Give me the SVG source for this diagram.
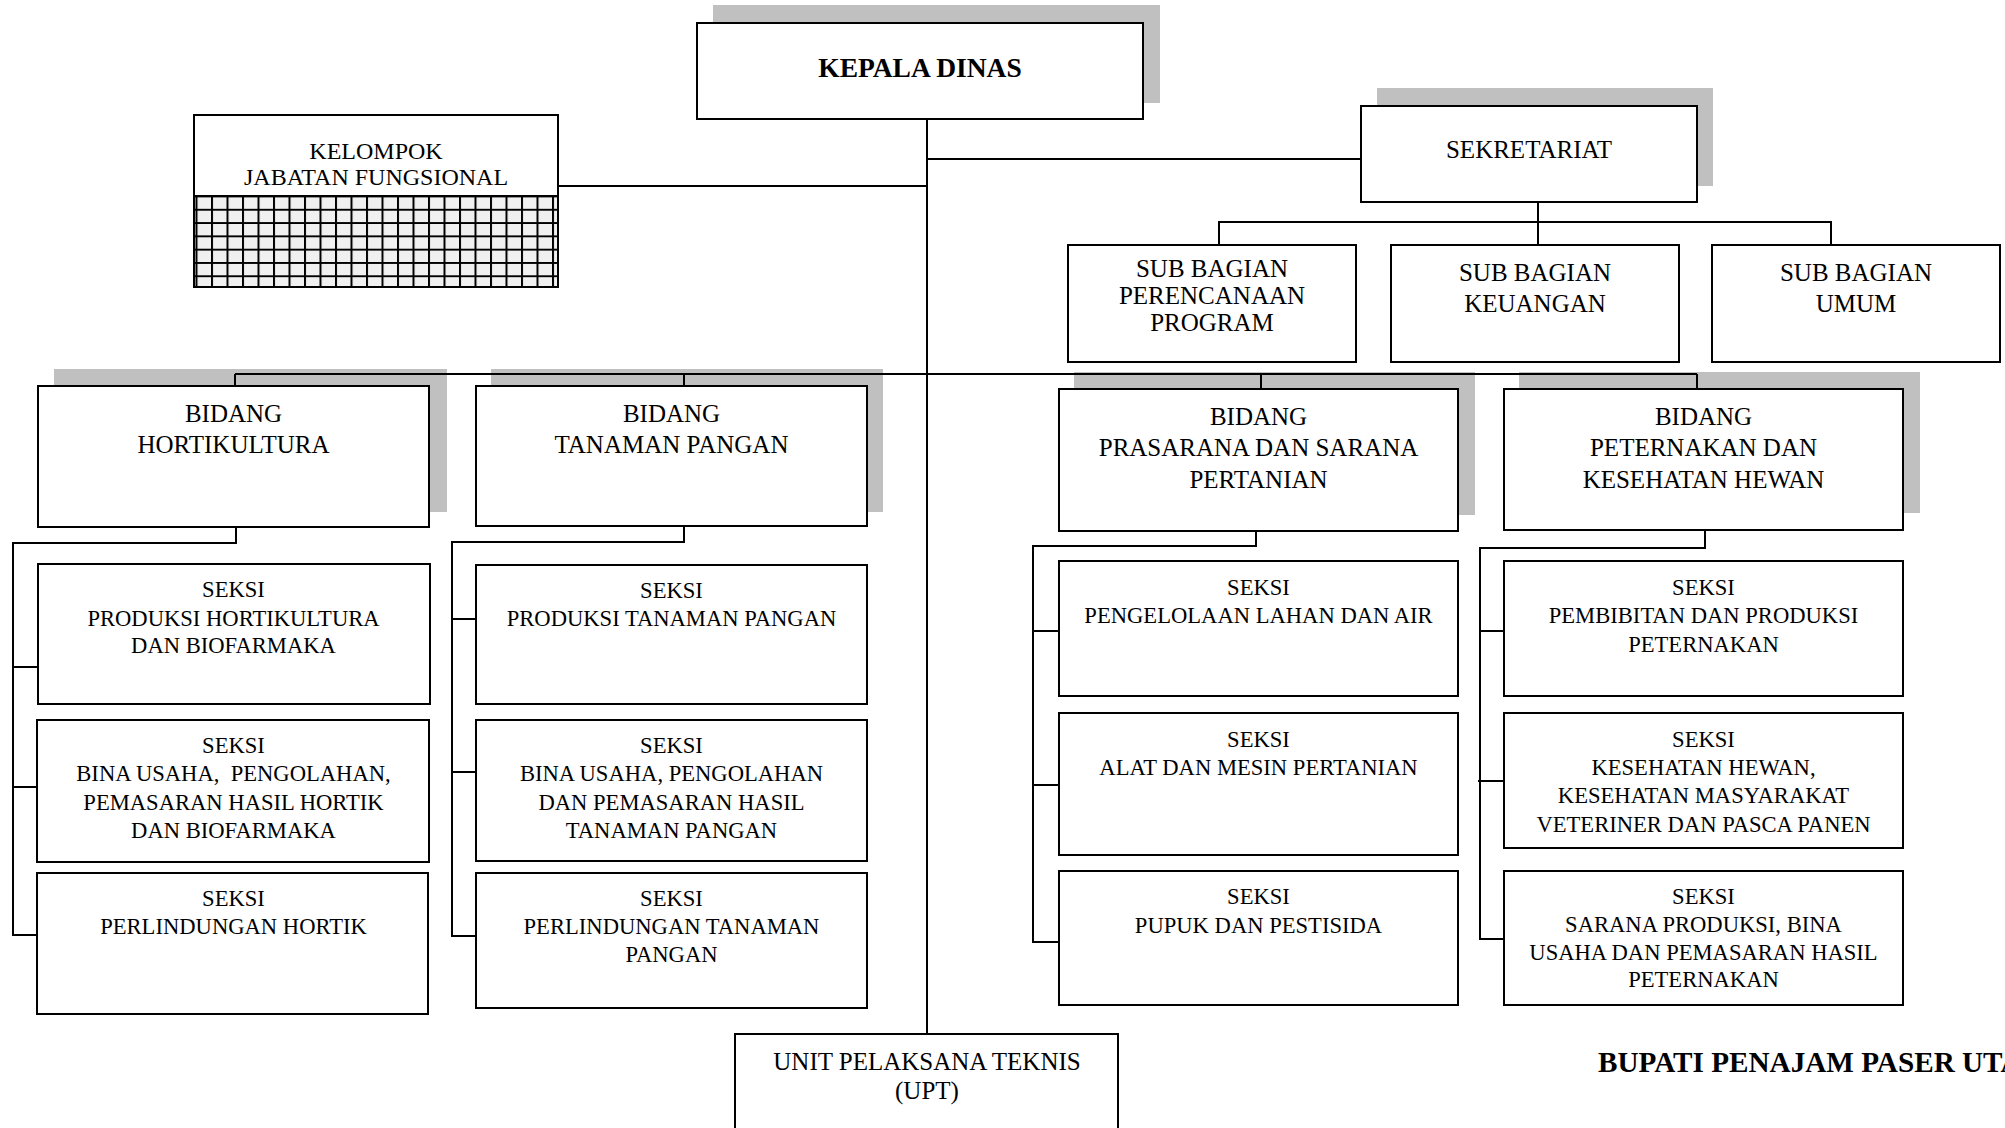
<svg xmlns="http://www.w3.org/2000/svg" width="2005" height="1128" viewBox="0 0 2005 1128">
<style>
.box{fill:#fff;stroke:#000;stroke-width:2}
.shadow{fill:#c0c0c0}
.conn{fill:none;stroke:#000;stroke-width:2}
text{font-family:"Liberation Serif","DejaVu Serif",serif;fill:#000}
.t{font-size:25px;text-anchor:middle}
.s{font-size:22.6px;text-anchor:middle}
.b{font-weight:bold}
</style>
<defs>
<pattern id="grid" patternUnits="userSpaceOnUse" x="195.5" y="195.5" width="15.5" height="13.3">
<rect width="15.5" height="13.3" fill="#f0f0f0"/>
<path d="M1 0V13.3M0 1H15.5" stroke="#000" stroke-width="2"/>
</pattern>
</defs>
<rect width="2005" height="1128" fill="#fff"/>

<g id="shadows">
<rect class="shadow" x="713" y="5" width="447" height="98"/>
<rect class="shadow" x="1377" y="88" width="336" height="98"/>
<rect class="shadow" x="54" y="369" width="393" height="143"/>
<rect class="shadow" x="491" y="369" width="392" height="143"/>
<rect class="shadow" x="1074" y="372" width="401" height="143"/>
<rect class="shadow" x="1519" y="372" width="401" height="141"/>
</g>

<g id="connectors">
<path class="conn" d="M927 119V1034M558 186H927M927 159H1361"/>
<path class="conn" d="M1538 202V245M1219 245V222H1831V245"/>
<path class="conn" d="M235 374H1697M235 374V386M684 374V386M1261 374V389M1697 374V389"/>
<path class="conn" d="M236 527V543H13V935H37M13 667H38M13 787H37"/>
<path class="conn" d="M684 526V542H452V936H476M452 619H476M452 772H476"/>
<path class="conn" d="M1256 531V546H1033V942H1059M1033 631H1059M1033 785H1059"/>
<path class="conn" d="M1705 530V548H1480V939H1504M1480 631H1504M1478 781H1504"/>
</g>

<g id="kepala-dinas">
<rect class="box" x="697" y="23" width="446" height="96"/>
<text class="t b" x="920" y="77" style="font-size:27.5px">KEPALA DINAS</text>
</g>

<g id="kelompok-jabatan-fungsional">
<rect class="box" x="194" y="115" width="364" height="172"/>
<rect x="195" y="196" width="362" height="90" fill="url(#grid)"/>
<path class="conn" d="M194 196H558"/>
<text class="t" x="376" y="159" style="font-size:24px">KELOMPOK</text>
<text class="t" x="376" y="185" style="font-size:24px">JABATAN FUNGSIONAL</text>
</g>

<g id="sekretariat">
<rect class="box" x="1361" y="106" width="336" height="96"/>
<text class="t" x="1529" y="158">SEKRETARIAT</text>
</g>

<g id="sub-bagian-perencanaan">
<rect class="box" x="1068" y="245" width="288" height="117"/>
<text class="t" x="1212" y="277">SUB BAGIAN</text>
<text class="t" x="1212" y="304">PERENCANAAN</text>
<text class="t" x="1212" y="331">PROGRAM</text>
</g>

<g id="sub-bagian-keuangan">
<rect class="box" x="1391" y="245" width="288" height="117"/>
<text class="t" x="1535" y="281">SUB BAGIAN</text>
<text class="t" x="1535" y="312">KEUANGAN</text>
</g>

<g id="sub-bagian-umum">
<rect class="box" x="1712" y="245" width="288" height="117"/>
<text class="t" x="1856" y="281">SUB BAGIAN</text>
<text class="t" x="1856" y="312">UMUM</text>
</g>

<g id="bidang-hortikultura">
<rect class="box" x="38" y="386" width="391" height="141"/>
<text class="t" x="233.5" y="422">BIDANG</text>
<text class="t" x="233.5" y="453">HORTIKULTURA</text>
</g>

<g id="bidang-tanaman-pangan">
<rect class="box" x="476" y="386" width="391" height="140"/>
<text class="t" x="671.5" y="422">BIDANG</text>
<text class="t" x="671.5" y="453">TANAMAN PANGAN</text>
</g>

<g id="bidang-prasarana">
<rect class="box" x="1059" y="389" width="399" height="142"/>
<text class="t" x="1258.5" y="425">BIDANG</text>
<text class="t" x="1258.5" y="456">PRASARANA DAN SARANA</text>
<text class="t" x="1258.5" y="488">PERTANIAN</text>
</g>

<g id="bidang-peternakan">
<rect class="box" x="1504" y="389" width="399" height="141"/>
<text class="t" x="1703.5" y="425">BIDANG</text>
<text class="t" x="1703.5" y="456">PETERNAKAN DAN</text>
<text class="t" x="1703.5" y="488">KESEHATAN HEWAN</text>
</g>

<g id="seksi-produksi-hortikultura">
<rect class="box" x="38" y="564" width="392" height="140"/>
<text class="s" x="233.5" y="597">SEKSI</text>
<text class="s" x="233.5" y="626">PRODUKSI HORTIKULTURA</text>
<text class="s" x="233.5" y="653">DAN BIOFARMAKA</text>
</g>

<g id="seksi-bina-usaha-hortik">
<rect class="box" x="37" y="720" width="392" height="142"/>
<text class="s" x="233.5" y="753">SEKSI</text>
<text class="s" x="233.5" y="781" xml:space="preserve">BINA USAHA,  PENGOLAHAN,</text>
<text class="s" x="233.5" y="810">PEMASARAN HASIL HORTIK</text>
<text class="s" x="233.5" y="838">DAN BIOFARMAKA</text>
</g>

<g id="seksi-perlindungan-hortik">
<rect class="box" x="37" y="873" width="391" height="141"/>
<text class="s" x="233.5" y="906">SEKSI</text>
<text class="s" x="233.5" y="934">PERLINDUNGAN HORTIK</text>
</g>

<g id="seksi-produksi-tanaman-pangan">
<rect class="box" x="476" y="565" width="391" height="139"/>
<text class="s" x="671.5" y="598">SEKSI</text>
<text class="s" x="671.5" y="626">PRODUKSI TANAMAN PANGAN</text>
</g>

<g id="seksi-bina-usaha-tanaman-pangan">
<rect class="box" x="476" y="720" width="391" height="141"/>
<text class="s" x="671.5" y="753">SEKSI</text>
<text class="s" x="671.5" y="781">BINA USAHA, PENGOLAHAN</text>
<text class="s" x="671.5" y="810">DAN PEMASARAN HASIL</text>
<text class="s" x="671.5" y="838">TANAMAN PANGAN</text>
</g>

<g id="seksi-perlindungan-tanaman-pangan">
<rect class="box" x="476" y="873" width="391" height="135"/>
<text class="s" x="671.5" y="906">SEKSI</text>
<text class="s" x="671.5" y="934">PERLINDUNGAN TANAMAN</text>
<text class="s" x="671.5" y="962">PANGAN</text>
</g>

<g id="seksi-pengelolaan-lahan">
<rect class="box" x="1059" y="561" width="399" height="135"/>
<text class="s" x="1258.5" y="595">SEKSI</text>
<text class="s" x="1258.5" y="623">PENGELOLAAN LAHAN DAN AIR</text>
</g>

<g id="seksi-alat-mesin">
<rect class="box" x="1059" y="713" width="399" height="142"/>
<text class="s" x="1258.5" y="747">SEKSI</text>
<text class="s" x="1258.5" y="775">ALAT DAN MESIN PERTANIAN</text>
</g>

<g id="seksi-pupuk-pestisida">
<rect class="box" x="1059" y="871" width="399" height="134"/>
<text class="s" x="1258.5" y="904">SEKSI</text>
<text class="s" x="1258.5" y="933">PUPUK DAN PESTISIDA</text>
</g>

<g id="seksi-pembibitan">
<rect class="box" x="1504" y="561" width="399" height="135"/>
<text class="s" x="1703.5" y="595">SEKSI</text>
<text class="s" x="1703.5" y="623">PEMBIBITAN DAN PRODUKSI</text>
<text class="s" x="1703.5" y="652">PETERNAKAN</text>
</g>

<g id="seksi-kesehatan-hewan">
<rect class="box" x="1504" y="713" width="399" height="135"/>
<text class="s" x="1703.5" y="747">SEKSI</text>
<text class="s" x="1703.5" y="775">KESEHATAN HEWAN,</text>
<text class="s" x="1703.5" y="803">KESEHATAN MASYARAKAT</text>
<text class="s" x="1703.5" y="832">VETERINER DAN PASCA PANEN</text>
</g>

<g id="seksi-sarana-produksi">
<rect class="box" x="1504" y="871" width="399" height="134"/>
<text class="s" x="1703.5" y="904">SEKSI</text>
<text class="s" x="1703.5" y="932">SARANA PRODUKSI, BINA</text>
<text class="s" x="1703.5" y="960">USAHA DAN PEMASARAN HASIL</text>
<text class="s" x="1703.5" y="987">PETERNAKAN</text>
</g>

<g id="upt">
<rect class="box" x="735" y="1034" width="383" height="110"/>
<text class="t" x="927" y="1070">UNIT PELAKSANA TEKNIS</text>
<text class="t" x="927" y="1099">(UPT)</text>
</g>

<g id="bupati-label">
<text class="b" x="1598" y="1072" style="font-size:29.2px">BUPATI PENAJAM PASER UTARA</text>
</g>
</svg>
